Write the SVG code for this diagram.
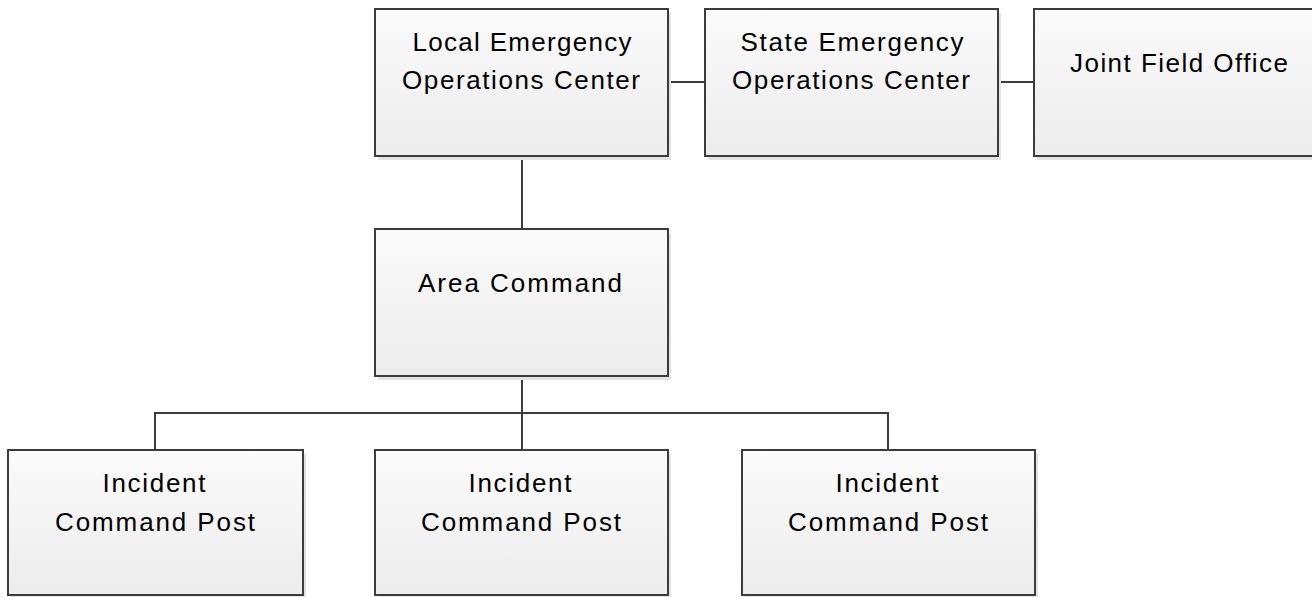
<svg xmlns="http://www.w3.org/2000/svg" width="1312" height="597" viewBox="0 0 1312 597">
<style>
.box{fill:url(#g);stroke:#3c3c3c;stroke-width:2}
.sh{fill:#e3e3e3}
.t{font-family:"Liberation Sans",Arial,sans-serif;font-size:26px;fill:#000;text-anchor:middle}
.c{fill:none;stroke:#3c3c3c;stroke-width:2}
</style>
<defs>
<linearGradient id="g" x1="0" y1="0" x2="0" y2="1">
<stop offset="0" stop-color="#fbfbfb"/>
<stop offset="1" stop-color="#ececec"/>
</linearGradient>
</defs>
<rect width="1312" height="597" fill="#ffffff"/>
<g id="connectors">
<line class="c" x1="668" y1="82" x2="705" y2="82"/>
<line class="c" x1="998" y1="82" x2="1034" y2="82"/>
<line class="c" x1="522" y1="156" x2="522" y2="229"/>
<line class="c" x1="522" y1="376" x2="522" y2="450"/>
<polyline class="c" points="155,450 155,413 888,413 888,450"/>
</g>
<g id="local-eoc">
<rect class="sh" x="378" y="13" width="293" height="147"/>
<rect class="box" x="375" y="9" width="293" height="147"/>
<text class="t" x="522" y="51" textLength="219" lengthAdjust="spacing">Local Emergency</text>
<text class="t" x="521" y="89" textLength="238" lengthAdjust="spacing">Operations Center</text>
</g>
<g id="state-eoc">
<rect class="sh" x="708" y="13" width="293" height="147"/>
<rect class="box" x="705" y="9" width="293" height="147"/>
<text class="t" x="852" y="51" textLength="223" lengthAdjust="spacing">State Emergency</text>
<text class="t" x="851" y="89" textLength="238" lengthAdjust="spacing">Operations Center</text>
</g>
<g id="joint-field-office">
<rect class="sh" x="1037" y="13" width="293" height="147"/>
<rect class="box" x="1034" y="9" width="293" height="147"/>
<text class="t" x="1179" y="72" textLength="218" lengthAdjust="spacing">Joint Field Office</text>
</g>
<g id="area-command">
<rect class="sh" x="378" y="233" width="293" height="147"/>
<rect class="box" x="375" y="229" width="293" height="147"/>
<text class="t" x="520" y="292" textLength="204" lengthAdjust="spacing">Area Command</text>
</g>
<g id="icp-1">
<rect class="sh" x="11" y="454" width="295" height="147"/>
<rect class="box" x="8" y="450" width="295" height="145"/>
<text class="t" x="154" y="492" textLength="103" lengthAdjust="spacing">Incident</text>
<text class="t" x="155" y="531" textLength="200" lengthAdjust="spacing">Command Post</text>
</g>
<g id="icp-2">
<rect class="sh" x="378" y="454" width="293" height="147"/>
<rect class="box" x="375" y="450" width="293" height="145"/>
<text class="t" x="520" y="492" textLength="103" lengthAdjust="spacing">Incident</text>
<text class="t" x="521" y="531" textLength="200" lengthAdjust="spacing">Command Post</text>
</g>
<g id="icp-3">
<rect class="sh" x="745" y="454" width="293" height="147"/>
<rect class="box" x="742" y="450" width="293" height="145"/>
<text class="t" x="887" y="492" textLength="103" lengthAdjust="spacing">Incident</text>
<text class="t" x="888" y="531" textLength="200" lengthAdjust="spacing">Command Post</text>
</g>
</svg>
